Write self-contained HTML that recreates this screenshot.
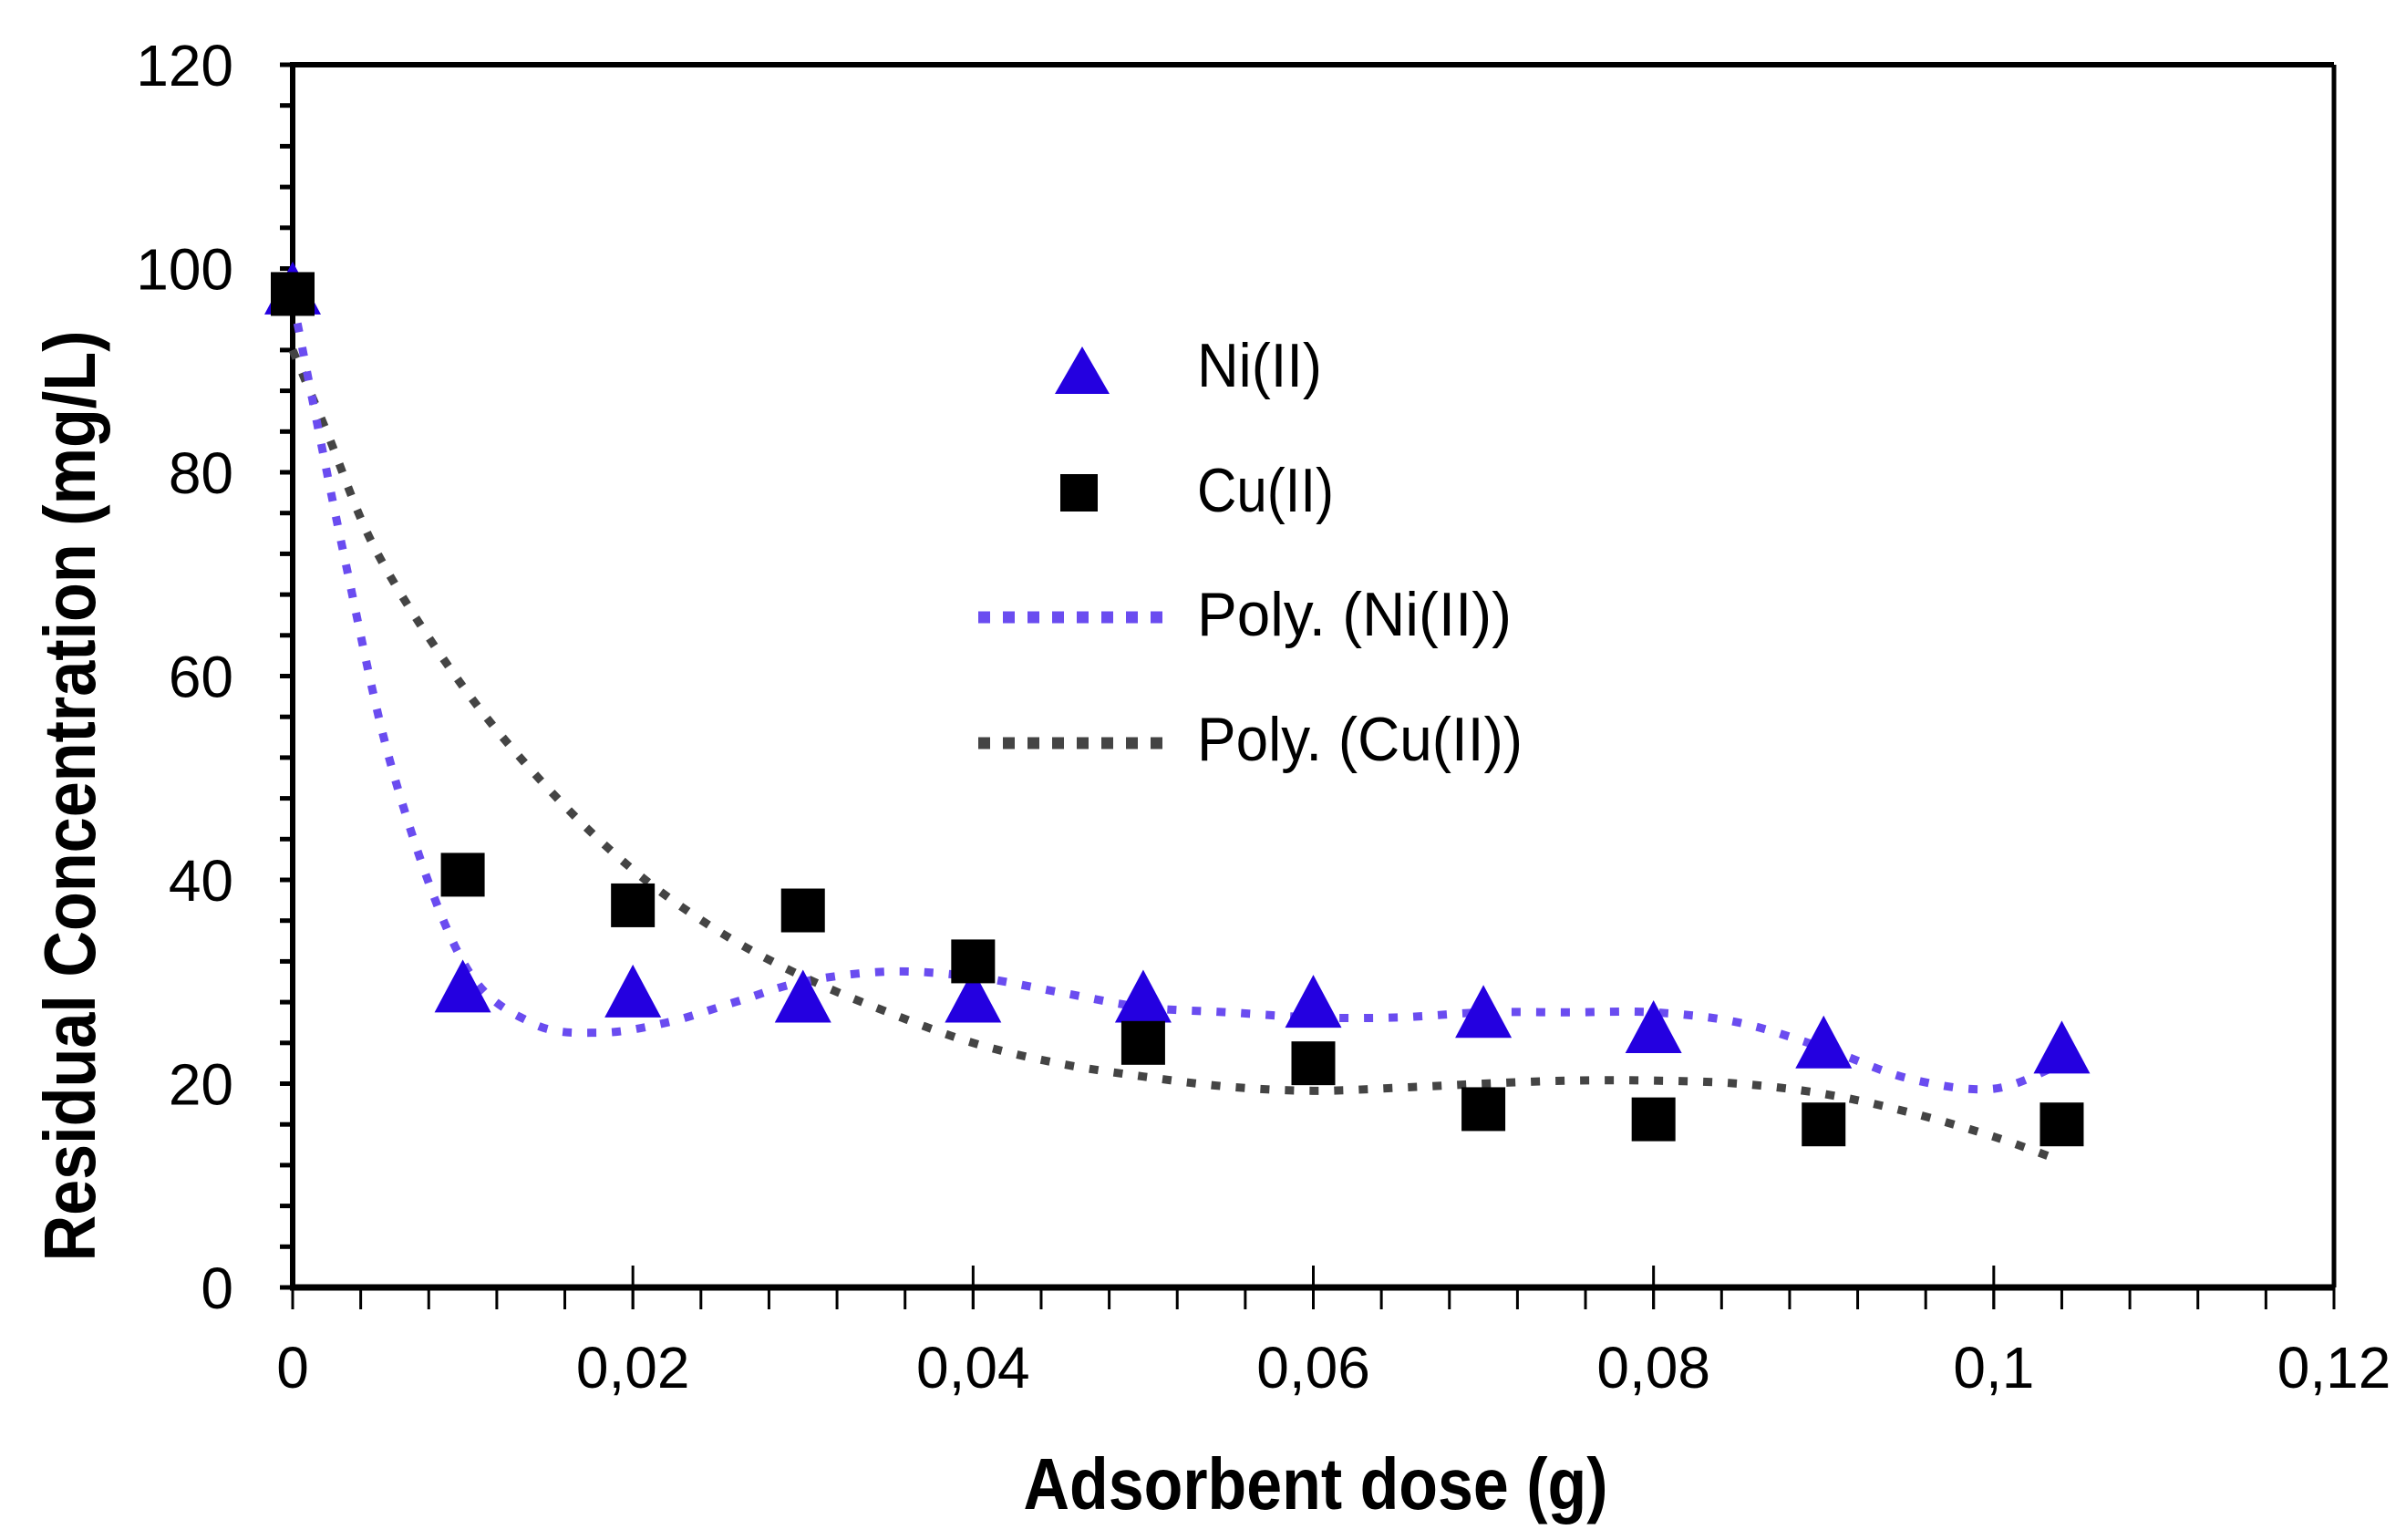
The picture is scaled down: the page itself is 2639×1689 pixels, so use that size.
<!DOCTYPE html>
<html><head><meta charset="utf-8"><style>
html,body{margin:0;padding:0;background:#fff;}
svg{display:block;}
text{font-family:"Liberation Sans",sans-serif;fill:#000;}
</style></head><body>
<svg id="chart" width="2639" height="1689" viewBox="0 0 2639 1689" xmlns="http://www.w3.org/2000/svg">
<g id="axes"></g>
<g id="trends"></g>
<g id="marks"></g>
<g id="legend">
  <polygon points="1187,380 1217,432 1157,432" fill="#2400e0"/>
  <text x="1313" y="424" font-size="68" textLength="137" lengthAdjust="spacingAndGlyphs">Ni(II)</text>
  <rect x="1163" y="520" width="41" height="41" fill="#000"/>
  <text x="1313" y="561" font-size="68" textLength="150" lengthAdjust="spacingAndGlyphs">Cu(II)</text>
  <line x1="1073" y1="677" x2="1280" y2="677" stroke="#6a4cf0" stroke-width="13" stroke-dasharray="13 14"/>
  <text x="1313" y="697" font-size="68" textLength="345" lengthAdjust="spacingAndGlyphs">Poly. (Ni(II))</text>
  <line x1="1073" y1="815" x2="1280" y2="815" stroke="#444" stroke-width="13" stroke-dasharray="13 14"/>
  <text x="1313" y="834" font-size="68" textLength="357" lengthAdjust="spacingAndGlyphs">Poly. (Cu(II))</text>
</g>
<text x="1443" y="1655" font-size="80" font-weight="bold" text-anchor="middle" textLength="641" lengthAdjust="spacingAndGlyphs">Adsorbent dose (g)</text>
<text transform="translate(104,873) rotate(-90)" font-size="80" font-weight="bold" text-anchor="middle" textLength="1021" lengthAdjust="spacingAndGlyphs">Residual Concentration (mg/L)</text>
</svg>
<script>
const xTicks = [0, 0.02, 0.04, 0.06, 0.08, 0.1, 0.12];
const xTickLabels = ["0", "0,02", "0,04", "0,06", "0,08", "0,1", "0,12"];
const yTicks = [0, 20, 40, 60, 80, 100, 120];
const yTickLabels = ["0", "20", "40", "60", "80", "100", "120"];
const doses = [0, 0.01, 0.02, 0.03, 0.04, 0.05, 0.06, 0.07, 0.08, 0.09, 0.104];
const niValues = [98, 29.5, 29, 28.5, 28.5, 28.5, 28, 27, 25.5, 24, 23.5];
const cuValues = [97.5, 40.5, 37.5, 37, 32, 24, 22, 17.5, 16.5, 16, 16];
const niTrendX = [0, 0.003, 0.006, 0.01, 0.014, 0.018, 0.022, 0.026, 0.03, 0.035, 0.04, 0.045, 0.05, 0.055, 0.06, 0.065, 0.07, 0.075, 0.08, 0.085, 0.09, 0.095, 0.1, 0.104];
const niTrendY = [97, 72, 50, 32, 26, 25, 26, 28, 30, 31, 30.5, 29, 27.5, 27, 26.5, 26.5, 27, 27, 27, 26, 23.5, 20.5, 19.5, 22];
const cuTrendX = [0, 0.002, 0.005, 0.01, 0.015, 0.02, 0.025, 0.03, 0.035, 0.04, 0.045, 0.05, 0.055, 0.06, 0.065, 0.07, 0.075, 0.08, 0.085, 0.09, 0.095, 0.1, 0.104];
const cuTrendY = [92, 84, 72, 59, 49, 41, 35, 30.5, 27, 24, 22, 20.7, 19.7, 19.3, 19.6, 20, 20.3, 20.3, 20, 19, 17.2, 14.8, 12.4];

const X0 = 321, X1 = 2560, Y0 = 1412, Y1 = 71;
const xMax = 0.12, yMax = 120;
function sx(v){ return X0 + (X1 - X0) * v / xMax; }
function sy(v){ return Y0 - (Y0 - Y1) * v / yMax; }
const NS = "http://www.w3.org/2000/svg";
function mk(tag, attrs, parent){
  const el = document.createElementNS(NS, tag);
  for (const k in attrs) el.setAttribute(k, attrs[k]);
  parent.appendChild(el);
  return el;
}
const axes = document.getElementById('axes');
// frame
let e;
e = mk('line', {x1: X0, y1: Y1, x2: X1, y2: Y1, stroke: '#000', 'stroke-width': 6}, axes);


e = mk('line', {x1: X1, y1: Y1, x2: X1, y2: Y0, stroke: '#000', 'stroke-width': 5}, axes);


e = mk('line', {x1: X0, y1: Y1 - 3, x2: X0, y2: Y0, stroke: '#000', 'stroke-width': 6}, axes);


e = mk('line', {x1: X0 - 3, y1: Y0, x2: X1, y2: Y0, stroke: '#000', 'stroke-width': 7}, axes);


// y minor ticks every 4
for (let v = 0; v <= yMax + 0.001; v += 4) {
  e = mk('line', {x1: X0 - 14, y1: sy(v), x2: X0, y2: sy(v), stroke: '#000', 'stroke-width': 5}, axes);
  
  
}
// x minor ticks every 0.004
for (let i = 0; i <= 30; i++) {
  const v = i * 0.004;
  e = mk('line', {x1: sx(v), y1: Y0, x2: sx(v), y2: Y0 + 24, stroke: '#000', 'stroke-width': 3}, axes);
  
  
}
xTicks.forEach((v, i) => {
  e = mk('line', {x1: sx(v), y1: Y0 - 24, x2: sx(v), y2: Y0 + 24, stroke: '#000', 'stroke-width': 3}, axes);
  
  
  e = mk('text', {x: sx(v), y: 1522, 'font-size': 64, 'text-anchor': 'middle'}, axes);
  e.textContent = xTickLabels[i];
  
  
});
yTicks.forEach((v, i) => {
  e = mk('text', {x: 256, y: sy(v) + 23, 'font-size': 64, 'text-anchor': 'end'}, axes);
  e.textContent = yTickLabels[i];
  
  
});
// smooth path
function smoothPath(xs, ys){
  const p = xs.map((x, i) => [sx(x), sy(ys[i])]);
  let d = 'M' + p[0][0] + ',' + p[0][1];
  for (let i = 0; i < p.length - 1; i++) {
    const p0 = p[i - 1] || p[i], p1 = p[i], p2 = p[i + 1], p3 = p[i + 2] || p2;
    const c1 = [p1[0] + (p2[0] - p0[0]) / 6, p1[1] + (p2[1] - p0[1]) / 6];
    const c2 = [p2[0] - (p3[0] - p1[0]) / 6, p2[1] - (p3[1] - p1[1]) / 6];
    d += ' C' + c1[0] + ',' + c1[1] + ' ' + c2[0] + ',' + c2[1] + ' ' + p2[0] + ',' + p2[1];
  }
  return d;
}
const trends = document.getElementById('trends');
e = mk('path', {d: smoothPath(cuTrendX, cuTrendY), fill: 'none', stroke: '#444', 'stroke-width': 9, 'stroke-dasharray': '10 17'}, trends);


e = mk('path', {d: smoothPath(niTrendX, niTrendY), fill: 'none', stroke: '#6a4cf0', 'stroke-width': 9, 'stroke-dasharray': '10 17'}, trends);


const marks = document.getElementById('marks');
doses.forEach((d, i) => {
  const x = sx(d), y = sy(niValues[i]);
  e = mk('polygon', {points: x + ',' + (y - 30) + ' ' + (x + 31) + ',' + (y + 28) + ' ' + (x - 31) + ',' + (y + 28), fill: '#2400e0'}, marks);
  
  
});
doses.forEach((d, i) => {
  const x = sx(d), y = sy(cuValues[i]);
  e = mk('rect', {x: x - 24, y: y - 24, width: 48, height: 48, fill: '#000'}, marks);
  
  
});
</script>
</body></html>
